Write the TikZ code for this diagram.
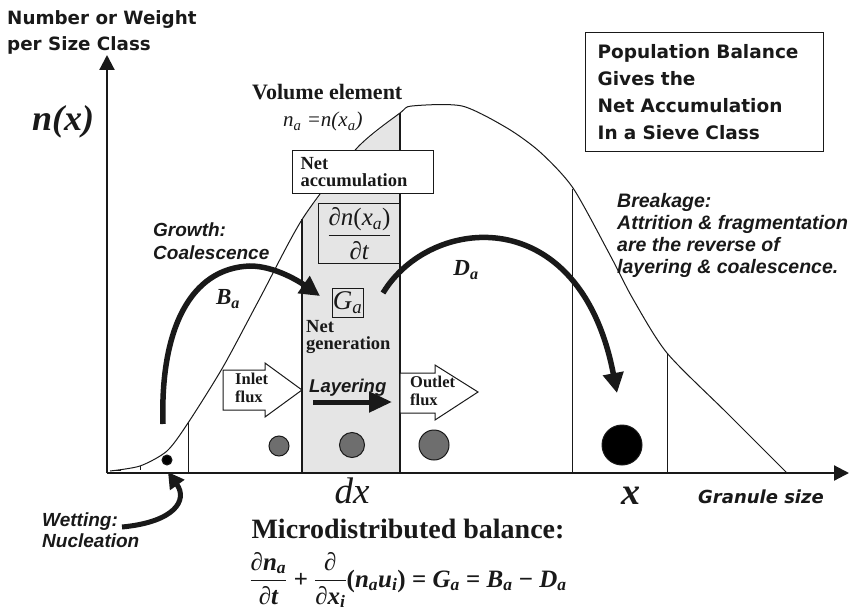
\RequirePackage{fix-cm}
\documentclass[tikz,border=0pt]{standalone}
\usepackage{amsmath}
\usepackage[no-math]{fontspec}
\setmainfont{Liberation Serif}
\newfontfamily\dvs{DejaVu Sans}
\newfontfamily\lsans{Liberation Sans}
\usetikzlibrary{arrows.meta}
\definecolor{volgray}{gray}{0.9}
\definecolor{partgray}{gray}{0.43}
\definecolor{ink}{gray}{0.1}
\newcommand\sbs[1]{\textsubscript{#1}}
\begin{document}
\begin{tikzpicture}[x=1pt,y=-1pt,
  axis/.style={line width=2.2pt, ink, -{Triangle[length=15pt,width=15pt]}},
  thinline/.style={line width=1pt, ink},
  edgeline/.style={line width=2.4pt, ink},
  curveline/.style={line width=1pt, ink},
  bigarrow/.style={line width=5.5pt, ink, -{Triangle[length=20pt,width=20pt]}},
  flux/.style={draw=ink, fill=white, line width=1pt},
  particle/.style={circle, draw=ink, fill=partgray, line width=1pt, inner sep=0pt},
  hdr/.style={font=\dvs\bfseries\fontsize{18.3}{26}\selectfont, align=left, inner sep=0pt, text=ink},
  boxtext/.style={font=\dvs\bfseries\fontsize{18.5}{27}\selectfont, align=left, text=ink},
  itsans/.style={font=\lsans\bfseries\itshape\fontsize{19}{22.5}\selectfont, align=left, inner sep=0pt, text=ink},
  serbold/.style={font=\bfseries\fontsize{18.5}{17.5}\selectfont, align=left, inner sep=0pt, text=ink},
  fluxtext/.style={font=\bfseries\fontsize{16.5}{17.5}\selectfont, align=left, inner sep=0pt, text=ink},
  sym/.style={inner sep=0pt, text=ink},
]
\useasboundingbox (0,0) rectangle (853,615);

% shaded volume element
\fill[volgray] (302,473) -- (302,219) -- (357,148) -- (400,113) -- (400,473) -- cycle;

% distribution curve
\draw[curveline] plot[smooth,tension=0.45] coordinates {(110,471) (140,466) (167,451) (188,423) (223,367) (260,298) (303,218) (357,148) (400,113) (412,106) (462,106) (507,128) (540,152) (573,188) (610,255) (633,299) (667,353) (727,413) (787,473)};
\draw[thinline] (113,470) -- (121,470);
\draw[thinline] (140,466) -- (140,470);

% sieve class boundaries
\draw[thinline] (188,473) -- (188,423);
\draw[thinline] (572,473) -- (572,189);
\draw[thinline] (667,473) -- (667,353);

% axes
\coordinate (O) at (107,473);
\coordinate (ytop) at (107,55);
\coordinate (xend) at (849,473);
\draw[axis] (O) -- (ytop);
\draw[axis] (O) -- (xend);

% fraction box (behind the edge)
\node[draw, thinline, sym, minimum width=82pt, minimum height=60pt, anchor=north west, font=\fontsize{25}{27}\selectfont] (dndt) at (318,203) {$\dfrac{\mbox{\textit{∂n}(\textit{x}\sbs{\textit{a}})}}{\mbox{\textit{∂t}}}$};

% volume element edges
\draw[edgeline] (302,473) -- (302,219);
\draw[edgeline] (400,473) -- (400,113);

% flux arrows
\draw[flux] (223,370) -- (265,370) -- (265,363) -- (302,390) -- (265,417) -- (265,410) -- (223,410) -- cycle;
\node[fluxtext, anchor=north west] (inlet) at (235,373) {Inlet\\flux};
\draw[flux] (400,373) -- (435,373) -- (435,365) -- (478,392) -- (435,420) -- (435,413) -- (400,413) -- cycle;
\node[fluxtext, anchor=north west] (outlet) at (410,376) {Outlet\\flux};

% particles
\node[particle, minimum size=20pt] (p1) at (279,446) {};
\node[particle, minimum size=25pt] (p2) at (352,445) {};
\node[particle, minimum size=30pt] (p3) at (434,445) {};
\node[particle, fill=black, minimum size=40pt] (p4) at (622,445) {};
\node[particle, fill=black, minimum size=10pt] (p5) at (167,460) {};

% texts
\node[hdr, anchor=north west] (ylabel) at (7,10) {Number or Weight\\per Size Class};
\node[sym, font=\bfseries\itshape\fontsize{36}{38}\selectfont] (nx) at (63,122) {n(x)};
\node[sym, font=\bfseries\fontsize{22}{24}\selectfont, anchor=base west] (vol) at (252,100) {Volume element};
\node[sym, font=\itshape\fontsize{21}{22}\selectfont, anchor=base west] (na) at (283,127) {n\sbs{a} =n(x\sbs{a})};

\node[serbold, draw=ink, fill=white, line width=1pt, anchor=north west, minimum width=141pt, minimum height=43pt, text width=125pt, inner xsep=8pt, inner ysep=0pt] (acc) at (292,150) {Net\\accumulation};

\node[draw=ink, line width=1pt, minimum width=31pt, minimum height=29pt, inner sep=0pt, font=\itshape\fontsize{27}{28}\selectfont, text=ink] (ga) at (347.5,302.5) {G\sbs{a}};
\node[serbold, anchor=north west] (gen) at (306,320) {Net\\generation};

\node[itsans, font=\lsans\bfseries\itshape\fontsize{18.5}{20}\selectfont, anchor=base west] (lay) at (309,392) {Layering};
\coordinate (layS) at (313,402);
\coordinate (layE) at (392,402);
\draw[line width=5pt, ink, -{Triangle[length=23pt,width=20pt]}] (layS) -- (layE);

\node[draw=ink, line width=1.3pt, boxtext, anchor=north west, minimum width=238pt, minimum height=119pt, text width=214pt, inner xsep=12pt] (pbox) at (585,32) {Population Balance\\Gives the\\Net Accumulation\\In a Sieve Class};

\node[itsans, anchor=north west] (growth) at (153,223) {Growth:\\Coalescence};
\node[itsans, font=\lsans\bfseries\itshape\fontsize{19.5}{22}\selectfont, anchor=north west] (break) at (617,193) {Breakage:\\Attrition \& fragmentation\\are the reverse of\\layering \& coalescence.};
\node[itsans, anchor=north west, font=\lsans\bfseries\itshape\fontsize{19}{21}\selectfont] (wet) at (42,513) {Wetting:\\Nucleation};

% process arrows
\coordinate (bS) at (163,424);
\coordinate (bE) at (320,296);
\draw[bigarrow] (bS) .. controls (160,330) and (190,268) .. (250,266) .. controls (275,266) and (300,282) .. (bE);
\node[sym, font=\bfseries\itshape\fontsize{23}{24}\selectfont] (ba) at (228,299) {B\sbs{a}};

\coordinate (dS) at (383,293);
\coordinate (dE) at (617,393);
\draw[bigarrow] (dS) .. controls (430,215) and (580,200) .. (dE);
\node[sym, font=\bfseries\itshape\fontsize{23}{24}\selectfont] (da) at (466,270) {D\sbs{a}};

\coordinate (wS) at (122,527);
\coordinate (wE) at (168,472);
\draw[line width=5pt, ink, -{Triangle[length=16pt,width=17pt]}] (wS) .. controls (175,522) and (188,500) .. (wE);

% axis labels
\node[sym, font=\itshape\fontsize{37}{40}\selectfont] (dx) at (352,491) {dx};
\node[sym, font=\bfseries\itshape\fontsize{38}{40}\selectfont] (xl) at (631,496) {x};
\node[sym, font=\dvs\bfseries\itshape\fontsize{18}{20}\selectfont, anchor=base west] (gs) at (698,503) {Granule size};

% balance
\node[sym, font=\bfseries\fontsize{28}{30}\selectfont, anchor=base] (micro) at (408,538) {Microdistributed balance:};
\node[sym, font=\bfseries\itshape\fontsize{25}{28}\selectfont] (eq) at (408,580) {$\dfrac{\mbox{∂n\sbs{a}}}{\mbox{∂t}}\mbox{ + }\dfrac{\mbox{∂}}{\mbox{∂x\sbs{i}}}\mbox{\upshape(\itshape n\sbs{a}u\sbs{i}\upshape) = \itshape G\sbs{a} \upshape= \itshape B\sbs{a} \upshape− \itshape D\sbs{a}}$};
\end{tikzpicture}
\end{document}
